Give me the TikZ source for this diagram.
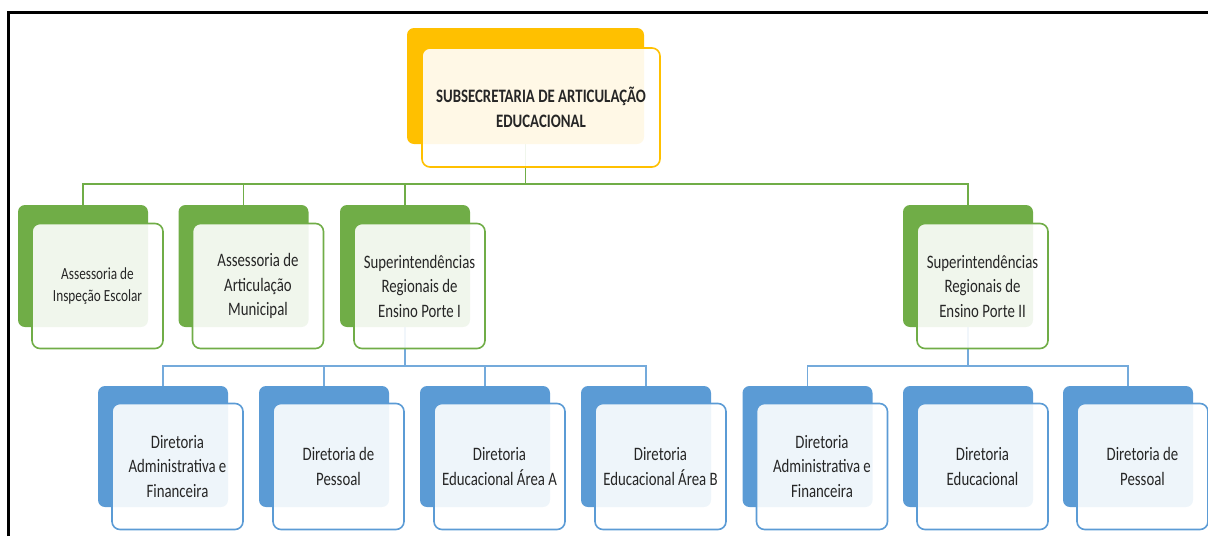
\documentclass[tikz,border=0pt]{standalone}
\usepackage{fontspec}
\setmainfont{Carlito}[FakeStretch=0.78]
\usetikzlibrary{backgrounds,calc}
\definecolor{gold}{HTML}{FFC000}
\definecolor{leaf}{HTML}{70AD47}
\definecolor{sky}{HTML}{5B9BD5}
\definecolor{ink}{HTML}{262626}
\begin{document}
\begin{tikzpicture}[x=1pt,y=-1pt,
  back/.style={rectangle,rounded corners=7pt,fill=#1,inner sep=0pt,
    minimum width=130pt,minimum height=122pt},
  front/.style={rectangle,rounded corners=8pt,draw=#1,line width=1.6pt,
    fill=white,fill opacity=0.9,text opacity=1,text=ink,inner sep=0pt,
    minimum width=131pt,minimum height=125pt,align=center,
    font=\fontsize{19}{24.5}\selectfont},
  small text/.style={font=\fontsize{17}{22}\selectfont},
  link/.style={line width=1.6pt,draw=#1}]%
  \useasboundingbox (0,0) rectangle (1208,536);
  \draw[line width=3pt] (8,536) -- (8,12) -- (1208,12);
  \pgfmathsetmacro{\dx}{14.5}
  \pgfmathsetmacro{\dy}{20}
  % top box
  \node[back=gold,minimum width=237pt,minimum height=116pt] (top) at (525.5,86) {};
  \node[front=gold,minimum width=238pt,minimum height=119pt,
    font=\bfseries\fontsize{19}{25}\selectfont] (topf) at (541,107.5)
    {SUBSECRETARIA DE ARTICULAÇÃO\\EDUCACIONAL};
  % second level
  \foreach \n/\x/\s/\t in {g1/83/small text/{Assessoria de\\Inspeção Escolar},
      g2/243.5/{}/{Assessoria de\\Articulação\\Municipal},
      g3/405/{}/{Superintendências\\Regionais de\\Ensino Porte I},
      g4/968/{}/{Superintendências\\Regionais de\\Ensino Porte II}} {
    \node[back=leaf] (\n) at (\x,266) {};
    \node[front=leaf,\s] (\n f) at (\x+\dx,266+\dy) {\t};
  }
  % third level
  \foreach \n/\x/\t in {b1/163/{Diretoria\\Administrativa e\\Financeira},
      b2/324/{Diretoria de\\Pessoal},
      b3/485/{Diretoria\\Educacional Área A},
      b4/646/{Diretoria\\Educacional Área B},
      b5/807.5/{Diretoria\\Administrativa e\\Financeira},
      b6/968/{Diretoria\\Educacional},
      b7/1128/{Diretoria de\\Pessoal}} {
    \node[back=sky,minimum height=121pt] (\n) at (\x,446.5) {};
    \node[front=sky,minimum height=126pt] (\n f) at (\x+\dx,446.5+\dy) {\t};
  }
  \coordinate (gbus) at (0,184);
  \coordinate (bbus) at (0,366);
  \begin{scope}[on background layer]
    \draw[link=leaf] (top.south) -- (top.south |- gbus);
    \draw[link=leaf] (g1.north) |- (g4.north |- gbus) -- (g4.north);
    \foreach \n in {g2,g3}
      \draw[link=leaf] (\n.north) -- (\n.north |- gbus);
    \draw[link=sky!85] (g3.south) -- (g3.south |- bbus);
    \draw[link=sky!85] (b1.north) |- (b4.north |- bbus) -- (b4.north);
    \foreach \n in {b2,b3}
      \draw[link=sky!85] (\n.north) -- (\n.north |- bbus);
    \draw[link=sky!85] (g4.south) -- (g4.south |- bbus);
    \draw[link=sky!85] (b5.north) |- (b7.north |- bbus) -- (b7.north);
  \end{scope}
\end{tikzpicture}
\end{document}
